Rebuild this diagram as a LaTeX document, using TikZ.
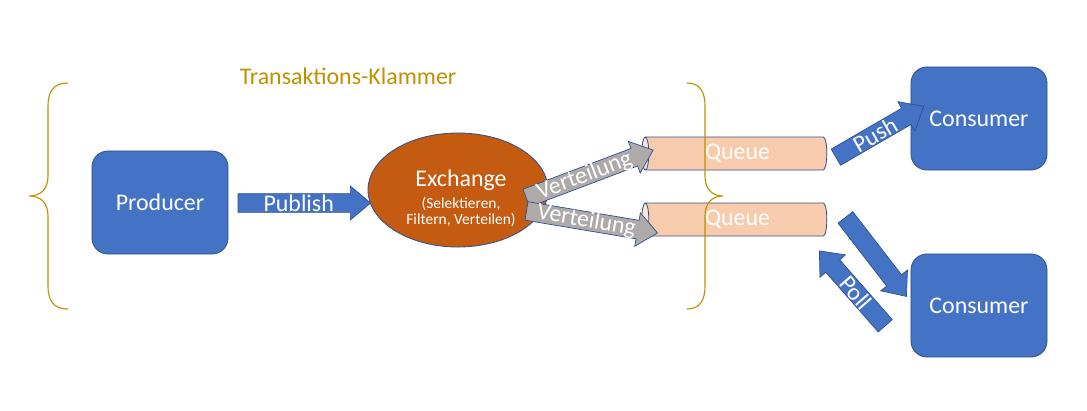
\documentclass[tikz,border=0pt]{standalone}
\usepackage{fontspec}
\setmainfont{Carlito}
\usepackage{xcolor}
\usetikzlibrary{shapes.geometric, shapes.arrows, calc}
\definecolor{boxblue}{HTML}{4472C4}
\definecolor{edgeblue}{HTML}{2F528F}
\definecolor{exchorange}{HTML}{C55A11}
\definecolor{queuepeach}{HTML}{F8CBAD}
\definecolor{queueend}{HTML}{FBE5D6}
\definecolor{arrowgray}{HTML}{AEAAAA}
\definecolor{txgold}{HTML}{BF9000}
\tikzset{
    client/.style={
        rectangle,
        rounded corners=0.4cm,
        draw=edgeblue,
        line width=0.6pt,
        fill=boxblue,
        minimum width=3.4cm,
        minimum height=2.575cm,
        text=white,
        font=\fontsize{17}{20}\selectfont
    },
    exchange/.style={
        ellipse,
        draw=edgeblue,
        line width=0.6pt,
        fill=exchorange,
        minimum width=4.5cm,
        minimum height=2.85cm
    },
    queue/.style={
        cylinder,
        shape border rotate=180,
        aspect=0.25,
        cylinder uses custom fill,
        cylinder body fill=queuepeach,
        cylinder end fill=queueend,
        draw=edgeblue,
        line width=0.6pt,
        minimum height=4.625cm,
        minimum width=0.825cm,
        text=white,
        font=\fontsize{17}{20}\selectfont
    },
    blockarrow/.style={
        single arrow,
        draw=edgeblue,
        line width=0.5pt,
        inner xsep=0pt,
        inner ysep=0.225cm,
        single arrow head extend=0.19cm,
        single arrow tip angle=80,
        anchor=center
    },
    arrowlabel/.style={
        text=white,
        inner sep=0pt,
        font=\fontsize{17}{20}\selectfont
    },
    bracket/.style={
        draw=txgold,
        line width=0.8pt
    }
}
% block arrow between two points: [label turn]{name}{colour}{from}{to}{label}
\newcommand{\flowarrow}[6][0]{%
  \path let \p1=($(#5)-(#4)$), \n1={atan2(\y1,\x1)}, \n2={veclen(\x1,\y1)} in
    node[blockarrow, fill=#3, rotate=\n1, minimum height=\n2] (#2) at ($(#4)!0.5!(#5)$) {}
    node[arrowlabel, rotate=\n1+#1] (#2-label) at ($(#4)!0.5!(#5)$) {#6};
}
\begin{document}
\begin{tikzpicture}[x=0.025cm, y=-0.025cm]
\useasboundingbox (0,0) rectangle (1087,410);

% Producer and Exchange
\node[client] (prod) at (160,202.5) {Producer};
\node[exchange] (exch) at (458,190) {};
\node[arrowlabel] (exchtitle) at (461,180) {Exchange};
\node[arrowlabel, align=center, font=\fontsize{11}{11.2}\selectfont] (exchnote) at (461,212) {(Selektieren,\\Filtern, Verteilen)};

% Queues
\node[queue] (queue1) at (737.5,153.5) {Queue};
\node[queue] (queue2) at (737.5,219.5) {Queue};

% Consumers
\node[client] (cons1) at (979,118.5) {Consumer};
\node[client] (cons2) at (979,305.5) {Consumer};

% Arrow ends
\coordinate (pubS) at ($(prod.east)+(4,0.5)$);
\coordinate (pubE) at (365,203);
\coordinate (dist1S) at (521,200);
\coordinate (dist1E) at (648,152);
\coordinate (dist2S) at (521,210);
\coordinate (dist2E) at (652,232);
\coordinate (pushS) at (831,160);
\coordinate (pushE) at (919,109);
\coordinate (downS) at (842,213);
\coordinate (downE) at (903,292);
\coordinate (pollS) at (889,330);
\coordinate (pollE) at (823,255);

% Block arrows
\flowarrow{publish}{boxblue}{pubS}{pubE}{Publish}
\flowarrow{dist1}{arrowgray}{dist1S}{dist1E}{Verteilung}
\flowarrow{dist2}{arrowgray}{dist2S}{dist2E}{Verteilung}
\flowarrow{push}{boxblue}{pushS}{pushE}{Push}
\flowarrow{fetch}{boxblue}{downS}{downE}{}
\flowarrow[180]{poll}{boxblue}{pollS}{pollE}{Poll}

% Transaktions-Klammer
\node[text=txgold, inner sep=0pt, font=\fontsize{17}{20}\selectfont] (txlabel) at (348,76) {Transaktions-Klammer};
\draw[bracket] (68,83) .. controls (53,83) and (48,92) .. (48,106) -- (48,176)
    .. controls (48,189) and (41,196) .. (29,196) .. controls (41,196) and (48,203) .. (48,216)
    -- (48,286) .. controls (48,300) and (53,309) .. (68,309);
\draw[bracket] (687,83) .. controls (700,83) and (705,92) .. (705,106) -- (705,176)
    .. controls (705,189) and (712,196) .. (723,196) .. controls (712,196) and (705,203) .. (705,216)
    -- (705,286) .. controls (705,300) and (700,309) .. (687,309);

\end{tikzpicture}
\end{document}
